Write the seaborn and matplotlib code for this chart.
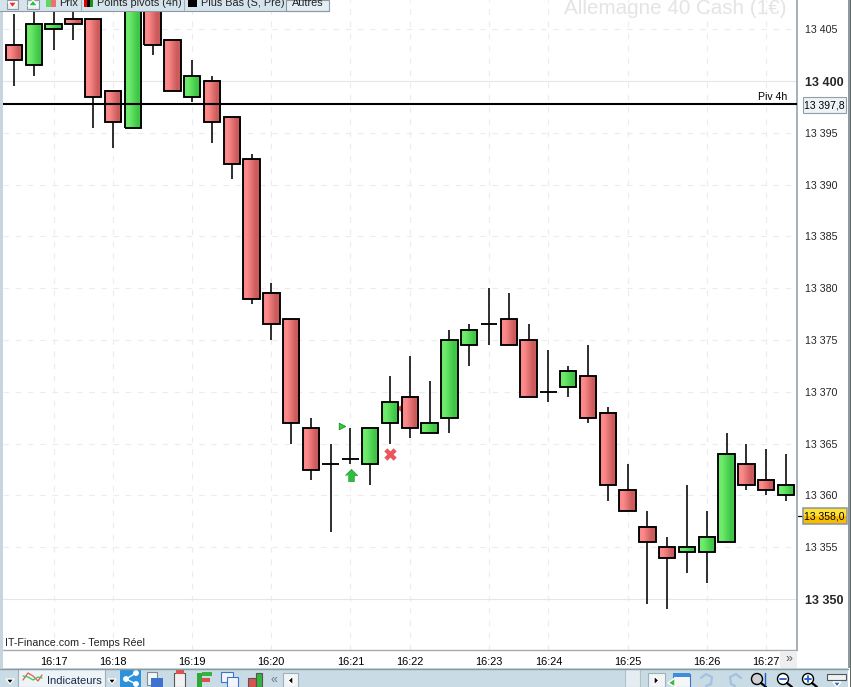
import numpy as np
import pandas as pd
import matplotlib
matplotlib.use("Agg")
import matplotlib.pyplot as plt
from matplotlib.patches import Rectangle, Polygon, Circle
import seaborn as sns

# bougies 1 minute, Allemagne 40 Cash
opens = [13403.5, 13401.5, 13405, 13406, 13406, 13399, 13395.5, 13410, 13404, 13398.5,
         13400, 13396.5, 13392.5, 13379.5, 13377, 13366.5, 13363, 13363.5, 13363, 13367,
         13369.5, 13366, 13367.5, 13374.5, 13376.5, 13377, 13375, 13370, 13370.5, 13371.5,
         13368, 13360.5, 13357, 13355, 13354.5, 13354.5, 13355.5, 13363, 13361.5, 13360]
closes = [13402, 13405.5, 13405.5, 13405.5, 13398.5, 13396, 13412, 13403.5, 13399, 13400.5,
          13396, 13392, 13379, 13376.5, 13367, 13362.5, 13363, 13363.5, 13366.5, 13369,
          13366.5, 13367, 13375, 13376, 13376.5, 13374.5, 13369.5, 13370, 13372, 13367.5,
          13361, 13358.5, 13355.5, 13354, 13355, 13356, 13364, 13361, 13360.5, 13361]
highs = [13406.5, 13407, 13407.5, 13407.5, 13406, 13399, 13413, 13410, 13404, 13402,
         13400.5, 13396.5, 13393, 13380.5, 13377, 13367.5, 13365, 13366.5, 13366.5, 13371.5,
         13373.5, 13371, 13376, 13376.5, 13380, 13379.5, 13376.5, 13374, 13372.5, 13374.5,
         13368.5, 13363, 13358.5, 13356, 13361, 13358.5, 13366, 13365, 13364.5, 13364]
lows = [13399.5, 13400.5, 13403, 13404, 13395.5, 13393.5, 13395.5, 13402.5, 13399, 13398,
        13394, 13390.5, 13378.5, 13375, 13365, 13361.5, 13356.5, 13363, 13361, 13365,
        13365.5, 13366, 13366, 13372.5, 13374.5, 13374.5, 13369.5, 13369, 13369.5, 13367,
        13359.5, 13358.5, 13349.5, 13349, 13352.5, 13351.5, 13355.5, 13360.5, 13360, 13359.5]

tick_idx = [2, 5, 9, 13, 17, 20, 24, 27, 31, 35, 38]
tick_labels = ["16:17", "16:18", "16:19", "16:20", "16:21", "16:22", "16:23", "16:24", "16:25", "16:26", "16:27"]
price_ticks = [13405, 13400, 13395, 13390, 13385, 13380, 13375, 13370, 13365, 13360, 13355, 13350]
price_labels = ["13 405", "13 400", "13 395", "13 390", "13 385", "13 380", "13 375", "13 370", "13 365", "13 360", "13 355", "13 350"]
pivot = 13397.8
last_price = 13358.0

# signaux sur le graphique
buy_x, buy_y = [17.03], [13362]
sell_x, sell_y = [19], [13364]
entry_x, entry_y = [16.55], [13366.7]
exit_x, exit_y = [19.45], [13368.4]

sns.set_style("white")
plt.rcParams["font.family"] = ["Liberation Sans", "DejaVu Sans"]

df = pd.DataFrame({"i": range(len(opens)), "open": opens, "close": closes, "high": highs, "low": lows})
df["body"] = (df["close"] - df["open"]).abs()
df["bottom"] = df[["open", "close"]].min(axis=1)

W, H = 851, 687
fig = plt.figure(figsize=(W / 100, H / 100), dpi=100, facecolor="white")
ax = fig.add_axes([3 / W, 1 - 650 / H, 794 / W, 650 / H])

sns.barplot(data=df, x="i", y="body", bottom=df["bottom"], native_scale=True, width=0.83, color="white",
            errorbar=None, edgecolor="black", linewidth=1.35, ax=ax, zorder=4)
ax.vlines(df["i"], df["low"], df["high"], color="black", lw=1.15, zorder=2)

# degrade gauche-droite dans le corps des bougies
red_grad = np.array([[[0.99, 0.54, 0.54], [0.80, 0.36, 0.36]]])
green_grad = np.array([[[0.43, 0.92, 0.42], [0.25, 0.78, 0.28]]])
for patch, o, c in zip(ax.patches, opens, closes):
    patch.set_facecolor("none")
    if c == o:
        continue
    x0, y0 = patch.get_x(), patch.get_y()
    ax.imshow(green_grad if c > o else red_grad, extent=(x0, x0 + patch.get_width(), y0, y0 + patch.get_height()),
              aspect="auto", interpolation="bilinear", zorder=3)

sns.scatterplot(x=exit_x, y=exit_y, marker="<", color="#e5333b", s=42, linewidth=0, ax=ax, zorder=2.5)
sns.scatterplot(x=sell_x, y=sell_y, marker="X", color="#e9565f", s=80, linewidth=0, ax=ax, zorder=5)
sns.scatterplot(x=entry_x, y=entry_y, marker=">", color="#2fd13a", s=22, edgecolor="#1a8f25", linewidth=0.6, ax=ax, zorder=5)
arrow = [(-1, 0), (0, 1), (1, 0), (0.45, 0), (0.45, -1), (-0.45, -1), (-0.45, 0)]
sns.scatterplot(x=buy_x, y=buy_y, marker=arrow, color="#2fbf3f", s=78, edgecolor="#1f9a30", linewidth=0.5, ax=ax, zorder=5)

ax.axhline(pivot, color="black", lw=1.5, zorder=6)

ax.set_xlim(-0.556, 39.56)
ax.set_ylim(13345.08, 13407.82)
ax.set_xlabel("")
ax.set_ylabel("")
ax.set_xticks(tick_idx, tick_labels)
ax.set_yticks(price_ticks, price_labels)
ax.yaxis.tick_right()
ax.tick_params(axis="x", length=0, pad=5, labelsize=7.9, colors="black")
ax.tick_params(axis="y", length=3.6, width=0.8, color="#7f8c94", pad=2, labelsize=7.7, right=True, left=False)
ax.set_axisbelow(True)
ax.grid(True, color="#ececec", lw=0.8, linestyle=(0, (5, 6)))
for v, line, lab in zip(price_ticks, ax.get_ygridlines(), ax.get_yticklabels()):
    if v in (13400, 13350):
        line.set_linestyle("-")
        line.set_color("#e6e6e6")
        lab.set_fontweight("bold")
        lab.set_fontsize(9)
sns.despine(ax=ax, top=True, left=True, right=False, bottom=False)
ax.spines["right"].set_color("#8d9aa3")
ax.spines["right"].set_linewidth(1.1)
ax.spines["bottom"].set_color("#a4acb1")
ax.spines["bottom"].set_linewidth(1.0)

# habillage de la fenetre, en pixels
ui = fig.add_axes([0, 0, 1, 1], zorder=10)
ui.set_xlim(0, W)
ui.set_ylim(H, 0)
ui.axis("off")
ui.patch.set_alpha(0)


def box(x0, y0, x1, y1, fc, ec="none", lw=0.8, **kw):
    ui.add_patch(Rectangle((x0, y0), x1 - x0, y1 - y0, fc=fc, ec=ec, lw=lw, **kw))


def label(x, y, s, size=7.8, color="black", ha="left", **kw):
    ui.text(x, y, s, fontsize=size, color=color, ha=ha, va="center", **kw)


ui.text(787, 9, "Allemagne 40 Cash (1€)", fontsize=14.9, color="#e4e4e4", ha="right", va="center")
label(787, 97.5, "Piv 4h", ha="right", size=7.6)
label(5, 643, "IT-Finance.com - Temps Réel", size=7.7, color="#222222")

# bord gauche et droit
box(0, 0, 2.5, 668, "#c6d6df")
box(798, 650, 848, 668, "white")
box(848, 0, 849.5, 668, "#8d9aa3")
box(849.5, 0, 851, 687, "#5f6a60")

# etiquettes de prix
box(802.5, 97, 846, 112.5, "#eef3f5", ec="#8fa0a8")
label(804.5, 105, "13 397,8", size=7.5)
ui.imshow(np.array([[[1.0, 0.88, 0.2]], [[0.98, 0.74, 0.0]]]), extent=(803, 847, 524, 508), aspect="auto", zorder=2)
ui.set_xlim(0, W)
ui.set_ylim(H, 0)
box(803, 508, 847, 524, "none", ec="#8a969c", lw=1.1, zorder=3)
label(804.5, 516.5, "13 358,0", size=7.5, zorder=4)
ui.plot([798, 802], [516, 516], color="black", lw=0.9)

# barre du haut
box(0, 0, 329, 10.5, "#d5e3ec")
ui.plot([0, 329], [10.5, 10.5], color="#8d9aa3", lw=0.8)
box(286, 0, 329, 10.5, "#e4edf3", ec="#8d9aa3")
box(7, 0, 18, 9, "#e8eef2", ec="#8d9aa3")
box(27, 0, 39, 9, "#e8eef2", ec="#8d9aa3")
ui.add_patch(Polygon([(8, 2), (17, 2), (12.5, 8)], fc="#e8333a"))
ui.add_patch(Polygon([(28, 6), (38, 6), (33, 0)], fc="#2cc23a"))
box(46, 0, 51, 7, "#5fd860")
box(51, 0, 56, 7, "#ee7070")
label(59, 3, "Prix", size=7.8, color="#222222")
box(84, 0, 87, 7, "#e00000")
box(87, 0, 90, 7, "black")
box(90, 0, 93, 7, "#1f8f1f")
label(97, 3, "Points pivots (4h)", size=7.8, color="#222222")
box(188, 0, 197, 7, "black")
label(201, 3, "Plus Bas (S, Pre)", size=7.8, color="#222222")
label(292, 3, "Autres", size=7.8, color="#222222")
for x in [81, 184]:
    ui.plot([x, x], [0, 10], color="#9fb0ba", lw=0.8)

# bouton >> sous l'axe
box(780, 651, 797, 668, "#eeeeee")
label(788.5, 659, "»", size=9, color="#555555", ha="center")

# barre du bas
box(0, 668, 848, 687, "#c9dbe4")
ui.plot([0, 848], [668.5, 668.5], color="#8d9aa3", lw=1.0)
box(18, 669, 105, 687, "#edf3f6", ec="#9fb0ba")
ui.add_patch(Polygon([(6, 679), (14, 679), (10, 684)], fc="black"))
ui.add_patch(Polygon([(108, 679), (116, 679), (112, 684)], fc="black"))
ui.plot([23, 28, 33, 38, 42], [680, 673, 676, 681, 675], color="#e05a5a", lw=0.9)
ui.plot([23, 28, 33, 38, 42], [676, 677, 680, 677, 678], color="#49c24d", lw=0.9)
label(47, 681.5, "Indicateurs", size=8, color="#1b2a4a")
box(120, 669, 141, 687, "#2c92dc")
ui.plot([136, 126, 136], [673, 679, 684], color="white", lw=1.0)
for xy in [(136, 673), (126, 679), (136, 684)]:
    ui.add_patch(Circle(xy, 2.2, fc="white"))
box(147, 672, 157, 685, "#f4f6f8", ec="#7e8a92")
box(151, 678, 163, 687, "#3f72cf")
box(174, 673, 185, 687, "#f2f2f2", ec="#555555")
box(176, 670, 184, 674, "#d9534f")
box(197, 673, 202, 687, "#33a63a")
box(202, 672, 212, 676, "#37b43f")
box(202, 678, 210, 682, "#d9534f")
box(221, 672, 233, 682, "#f1f6fb", ec="#3f72cf")
box(227, 677, 238, 687, "#f1f6fb", ec="#3f72cf")
box(248, 678, 256, 687, "#d9534f", ec="#555555")
box(256, 673, 262, 687, "#37b43f", ec="#555555")
label(274, 680, "«", size=9, color="#6d7a82", ha="center")
box(283, 673, 298, 687, "#f2f5f7", ec="#9fb0ba")
ui.add_patch(Polygon([(293, 676), (293, 685), (288, 680.5)], fc="black"))
box(625, 669, 640, 687, "#e4edf2", ec="#b3c2ca")
box(648, 673, 665, 687, "#f2f5f7", ec="#9fb0ba")
ui.add_patch(Polygon([(654, 676), (654, 685), (659, 680.5)], fc="black"))
box(673, 674, 690, 687, "#f4f6f8", ec="#3f72cf")
box(673, 673, 690, 677, "#3f8ed8")
ui.add_patch(Polygon([(668, 683), (675, 678), (675, 687)], fc="#44b649"))
ui.plot([701, 706, 712, 711, 706], [678, 674, 677, 684, 686], color="#a5c0e3", lw=1.6)
ui.plot([741, 736, 730, 731, 735], [678, 674, 677, 684, 686], color="#a5c0e3", lw=1.6)
for cx, fc in [(757, "#d0d0d0"), (783, "white"), (808, "white")]:
    ui.add_patch(Circle((cx, 679), 5.5, fc=fc, ec="black", lw=1.0))
    ui.plot([cx + 4, cx + 9], [683, 687], color="black", lw=1.6)
ui.plot([765, 765], [673, 685], color="#1f5fc4", lw=1)
ui.plot([780, 786], [679, 679], color="#1f5fc4", lw=1.3)
ui.plot([805, 811], [679, 679], color="#1f5fc4", lw=1.3)
ui.plot([808, 808], [676, 682], color="#1f5fc4", lw=1.3)
box(827, 674, 846, 680, "#eef2f5", ec="#555555")
ui.add_patch(Polygon([(833, 682), (841, 682), (837, 687)], fc="#1f6fd0"))

fig.savefig("out.png", dpi=100)
